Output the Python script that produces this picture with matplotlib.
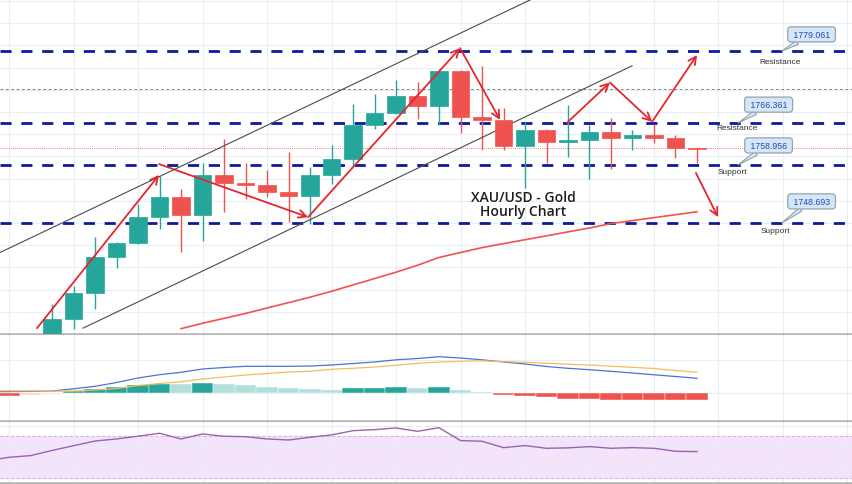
import numpy as np
import matplotlib
matplotlib.use("Agg")
import matplotlib.pyplot as plt

# hourly candles, index 0 = first visible candle
opens = [1728.38, 1731.68, 1736.37, 1742.61, 1745.22, 1749.73, 1753.37, 1750.08, 1757.19, 1755.80,
         1755.46, 1754.24, 1753.55, 1757.19, 1759.97, 1766.04, 1768.13, 1771.08, 1769.34, 1775.59,
         1767.43, 1766.91, 1762.23, 1765.18, 1762.92, 1763.44, 1764.83, 1763.79, 1764.31, 1763.79, 1761.88]
highs = [1734.46, 1737.58, 1746.26, 1745.40, 1751.99, 1757.02, 1754.76, 1759.28, 1763.61, 1759.28,
         1758.06, 1761.18, 1758.58, 1762.40, 1769.69, 1771.42, 1774.03, 1773.68, 1775.90, 1775.76,
         1776.46, 1768.99, 1766.56, 1765.30, 1769.51, 1766.04, 1767.26, 1765.18, 1766.22, 1764.31, 1761.90]
lows = [1727.51, 1729.90, 1733.59, 1740.71, 1745.00, 1747.65, 1743.66, 1745.56, 1750.60, 1752.85,
        1753.37, 1748.86, 1748.52, 1755.63, 1758.75, 1765.35, 1768.00, 1767.09, 1766.04, 1764.66,
        1761.53, 1761.53, 1754.94, 1759.28, 1760.32, 1756.50, 1758.23, 1761.53, 1762.75, 1760.14, 1759.28]
closes = [1731.68, 1736.37, 1742.61, 1745.22, 1749.73, 1753.37, 1750.08, 1757.19, 1755.80, 1755.46,
          1754.24, 1753.55, 1757.19, 1759.97, 1766.04, 1768.13, 1771.08, 1769.34, 1775.59, 1767.43,
          1766.91, 1762.23, 1765.18, 1762.92, 1763.44, 1764.83, 1763.79, 1764.31, 1763.79, 1761.88, 1761.80]

# moving average, starts at candle 6
ma_start = 6
ma_vals = [1730.03, 1730.99, 1731.85, 1732.72, 1733.68, 1734.63, 1735.59, 1736.63, 1737.76, 1738.88,
           1740.01, 1741.23, 1742.61, 1743.48, 1744.35, 1745.05, 1745.74, 1746.43, 1747.13, 1747.82,
           1748.60, 1749.12, 1749.64, 1750.16, 1750.68]

# indicators start 3 candles before the first visible one
ind_start = -3
macd_line = [0.26, 0.28, 0.32, 0.40, 0.84, 1.34, 2.10, 3.00, 3.66, 4.14, 4.80, 5.10, 5.34, 5.34, 5.34,
             5.40, 5.60, 5.90, 6.20, 6.64, 6.90, 7.26, 7.00, 6.64, 6.20, 5.80, 5.30, 4.94, 4.66, 4.34,
             4.00, 3.64, 3.30, 2.94]
signal_line = [0.46, 0.44, 0.42, 0.36, 0.40, 0.60, 0.90, 1.50, 1.90, 2.24, 2.80, 3.20, 3.60, 3.90, 4.20,
               4.34, 4.74, 4.94, 5.20, 5.56, 5.94, 6.20, 6.34, 6.44, 6.28, 6.14, 5.96, 5.76, 5.60, 5.36,
               5.14, 4.90, 4.50, 4.14]
macd_hist = [-0.50, -0.54, -0.40, -0.14, 0.40, 0.80, 1.14, 1.60, 1.80, 1.76, 2.00, 1.74, 1.60, 1.26, 1.00,
             0.80, 0.66, 0.94, 0.94, 1.14, 1.00, 1.14, 0.54, 0.26, -0.40, -0.60, -0.86, -1.20, -1.20, -1.34,
             -1.34, -1.34, -1.46, -1.46]
rsi_vals = [46.5, 49.7, 51.3, 56.3, 60.9, 65.4, 67.4, 70.1, 72.9, 67.4, 72.2, 70.0, 69.6, 67.4, 66.4,
            69.0, 71.3, 75.4, 76.4, 78.0, 74.8, 78.3, 65.8, 65.2, 59.0, 61.0, 58.4, 58.8, 60.0, 58.4,
            59.0, 58.4, 55.5, 55.2]

levels = [1779.061, 1766.361, 1758.956, 1748.693]
level_names = ["Resistance", "Resistance", "Support", "Support"]
last_price = 1761.88
guide_price = 1772.29

channel_upper = [(-2.42, 1743.48), (22.33, 1788.26)]
channel_lower = [(1.44, 1730.12), (26.98, 1776.46)]
swing_arrows = [
    ((-0.70, 1730.12), (4.98, 1757.19)),
    ((4.98, 1759.10), (11.91, 1749.73)),
    ((11.91, 1749.73), (18.98, 1779.58)),
    ((18.98, 1779.58), (20.84, 1766.91)),
    ((23.95, 1766.39), (25.95, 1773.51)),
    ((25.95, 1773.51), (27.91, 1766.57)),
    ((27.91, 1766.57), (30.00, 1778.37)),
    ((29.95, 1757.54), (30.98, 1749.73)),
]

GREEN = "#26a69a"
RED = "#ef5350"
ARROW = "#e3262f"
NAVY = "#0e1a9e"
GRID = "#e9eef3"
SEP = "#b4b4b4"

xmin, xmax = -2.42, 37.21
vgrid = np.arange(-2, 38, 3)

fig = plt.figure(figsize=(8.52, 4.85), dpi=100)
ax = fig.add_axes([0, 0.3093, 1, 0.6907])
ax_m = fig.add_axes([0, 0.1299, 1, 0.1773])
ax_r = fig.add_axes([0, 0.0021, 1, 0.1258])

for a in (ax, ax_m, ax_r):
    a.set_xlim(xmin, xmax)
    a.set_xticks(vgrid)
    a.tick_params(length=0, labelbottom=False, labelleft=False)
    a.grid(True, color=GRID, lw=0.8)
    a.set_axisbelow(True)
    for s in ("top", "left", "right"):
        a.spines[s].set_visible(False)
    a.spines["bottom"].set_color(SEP)
    a.spines["bottom"].set_linewidth(1.8)

# ---- price panel
ax.set_ylim(1730.118, 1788.259)
ax.set_yticks(np.arange(levels[3] - 3.92 * 5, 1790, 3.92))

o = np.array(opens); h = np.array(highs); l = np.array(lows); c = np.array(closes)
idx = np.arange(len(o))
cols = np.where(c >= o, GREEN, RED)
cols[-1] = RED
ax.vlines(idx, l, h, colors=cols, lw=1.0, zorder=3)
ax.bar(idx, np.maximum(np.abs(c - o), 0.12), bottom=np.minimum(o, c), width=0.8,
       color=cols, edgecolor=cols, lw=0.5, zorder=4)

ax.plot(np.arange(len(ma_vals)) + ma_start, ma_vals, color=RED, lw=1.2, zorder=3)

for lv in levels:
    ax.axhline(lv, color=NAVY, lw=2.0, dashes=(4.0, 3.5), zorder=2)
ax.axhline(last_price, color=RED, lw=0.6, ls=(0, (1, 1.5)), zorder=2)
ax.axhline(guide_price, color="#8a8a8a", lw=0.7, ls=(0, (3, 2.5)), zorder=2)

for seg in (channel_upper, channel_lower):
    xs, ys = zip(*seg)
    ax.plot(xs, ys, color="#4a4a4a", lw=0.8, zorder=3)

for start, end in swing_arrows:
    ax.annotate("", xy=end, xytext=start,
                arrowprops=dict(arrowstyle="->,head_length=0.55,head_width=0.28",
                                color=ARROW, lw=1.3, shrinkA=0, shrinkB=0), zorder=5)

ax.text(21.91, 1752.1, "XAU/USD - Gold\nHourly Chart", ha="center", va="center",
        fontsize=10, family=["Open Sans", "DejaVu Sans"], fontweight="semibold",
        color="#1c1c1c", linespacing=1.0, zorder=6)

# callouts and level names
tips_x = [33.95, 31.91, 31.91, 33.95]
box_pos = [(35.33, 1782.01), (33.33, 1769.60), (33.33, 1762.40), (35.33, 1752.51)]
name_pos = [(33.88, 1777.27), (31.86, 1765.52), (31.63, 1757.77), (33.65, 1747.30)]
for lv, tx, bp, npos, nm in zip(levels, tips_x, box_pos, name_pos, level_names):
    ax.annotate(f" {lv:.3f} ", xy=(tx, lv), xytext=bp, ha="center", va="center",
                fontsize=6.3, family="Liberation Sans", color="#2746b5", zorder=7,
                bbox=dict(boxstyle="round,pad=0.35", fc="#d4e7f8", ec="#98a2ad", lw=0.9),
                arrowprops=dict(arrowstyle="wedge,tail_width=0.5", fc="#d4e7f8", ec="#98a2ad",
                                lw=0.8, shrinkA=0, shrinkB=0))
    ax.text(npos[0], npos[1], nm, ha="center", va="center", fontsize=6.0,
            family="Liberation Sans", color="#333333", zorder=6)

# ---- MACD panel
ind_x = np.arange(len(macd_hist)) + ind_start
hist = np.array(macd_hist)
prev = np.r_[hist[0], hist[:-1]]
hcols = []
for hv, pv in zip(hist, prev):
    if hv >= 0:
        hcols.append(GREEN if hv >= pv else "#b2dfdb")
    else:
        hcols.append(RED if hv <= pv else "#ffcdd2")
ax_m.bar(ind_x, hist, width=1.0, color=hcols, edgecolor="white", lw=0.3, zorder=2)
ax_m.plot(ind_x, macd_line, color="#4f72cf", lw=0.9, zorder=3)
ax_m.plot(ind_x, signal_line, color="#f4bd5c", lw=0.9, zorder=3)
ax_m.set_ylim(-5.6, 11.6)
ax_m.set_yticks([0, 6.6])

# ---- RSI panel
ax_r.set_ylim(24.9, 83.8)
ax_r.set_yticks([40, 60, 80])
ax_r.axhspan(30, 70, color="#f3e4fb", zorder=0)
for lv in (30, 70):
    ax_r.axhline(lv, color="#c7b6d3", lw=0.7, ls=(0, (3, 2.5)), zorder=1)
ax_r.plot(ind_x, rsi_vals, color="#9a63b0", lw=1.0, zorder=3)

fig.savefig("out.png", dpi=100, facecolor="white")
